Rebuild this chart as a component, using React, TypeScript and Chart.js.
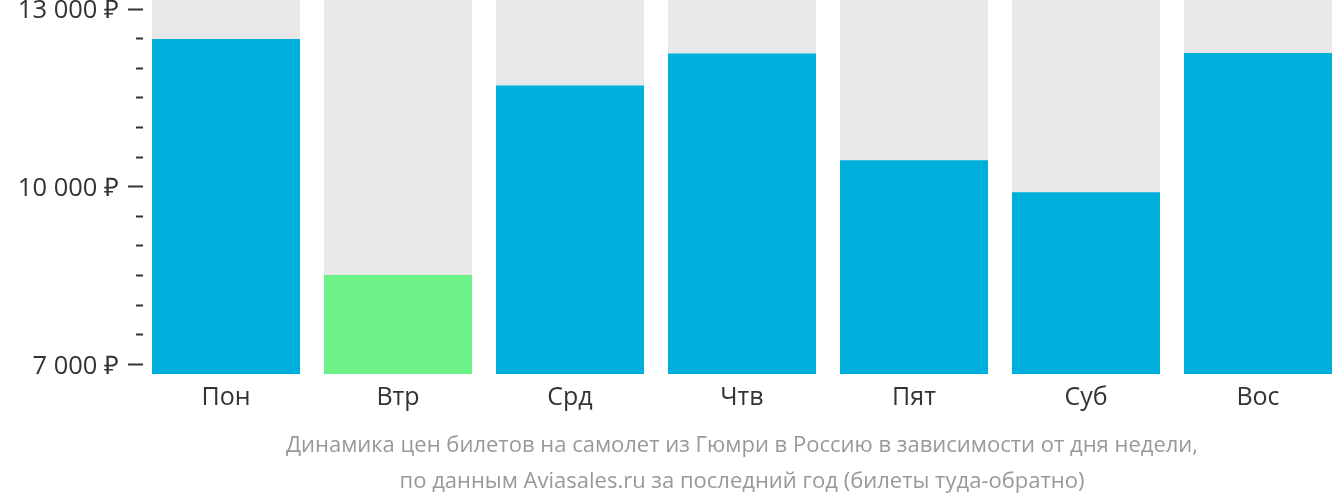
import React, { useEffect, useRef } from "react";
import { Chart, registerables } from "chart.js";

Chart.register(...registerables);

// ---- data ----
const days = ["Пон", "Втр", "Срд", "Чтв", "Пят", "Суб", "Вос"];
const prices = [12495, 8508, 11708, 12247, 10445, 9906, 12259];
const cheapestIndex = 1;

const Y_MIN = 6837;
const Y_MAX = 13152;
const minorTickValues = [7000, 7500, 8000, 8500, 9000, 9500, 10000, 10500, 11000, 11500, 12000, 12500, 13000];
const majorTickValues = [7000, 10000, 13000];
const majorTickLabels = ["7 000 ₽", "10 000 ₽", "13 000 ₽"];

const captionLines = [
  "Динамика цен билетов на самолет из Гюмри в Россию в зависимости от дня недели,",
  "по данным Aviasales.ru за последний год (билеты туда-обратно)",
];

const BLUE = "#00b0dc";
const GREEN = "#6cf088";
const GREY = "#e8e8e8";
const TEXT = "#333333";
const CAPTION = "#999999";

export default function App() {
  const ref = useRef<HTMLCanvasElement | null>(null);

  useEffect(() => {
    if (!ref.current) return;
    const xPad = 74 / 172;
    const chart = new Chart(ref.current, {
      type: "bar",
      data: {
        datasets: [
          {
            label: "price",
            data: prices.map((v, i) => ({ x: i, y: v })),
            backgroundColor: prices.map((_, i) => (i === cheapestIndex ? GREEN : BLUE)),
            grouped: false,
            order: 0,
            categoryPercentage: 1,
            barPercentage: 148 / 172,
            borderWidth: 0,
          },
          {
            label: "bg",
            data: prices.map((_, i) => ({ x: i, y: Y_MAX })),
            backgroundColor: GREY,
            grouped: false,
            order: 1,
            categoryPercentage: 1,
            barPercentage: 148 / 172,
            borderWidth: 0,
          },
        ],
      },
      options: {
        animation: false,
        responsive: true,
        maintainAspectRatio: false,
        layout: { padding: 0 },
        plugins: {
          legend: { display: false },
          tooltip: { enabled: false },
          title: {
            display: true,
            position: "bottom",
            fullSize: false,
            text: captionLines,
            color: CAPTION,
            font: { family: "'Open Sans'", size: 22, weight: "normal", lineHeight: 36 / 22 },
            padding: { top: 8, bottom: 2 },
          },
        },
        scales: {
          x: {
            type: "linear",
            offset: false,
            min: -xPad,
            max: days.length - 1 + xPad,
            grid: { display: false, drawTicks: false, offset: false },
            border: { display: false },
            afterBuildTicks: (scale: any) => {
              scale.ticks = days.map((_, i) => ({ value: i }));
            },
            afterFit: (scale: any) => {
              scale.height = 46;
              scale.paddingLeft = 0;
              scale.paddingRight = 0;
            },
            ticks: {
              autoSkip: false,
              maxRotation: 0,
              padding: 9,
              color: TEXT,
              font: { family: "'Open Sans'", size: 25 },
              callback: (v: any) => days[v as number] ?? "",
            },
          },
          y: {
            type: "linear",
            min: Y_MIN,
            max: Y_MAX,
            border: { display: false },
            grid: {
              drawOnChartArea: false,
              drawTicks: true,
              tickLength: 24,
              tickWidth: 2,
              tickColor: TEXT,
              tickBorderDash: (ctx: any) =>
                majorTickValues.includes(ctx.tick?.value) ? [15, 200] : [7, 200],
              tickBorderDashOffset: (ctx: any) =>
                majorTickValues.includes(ctx.tick?.value) ? 0 : 199,
            },
            afterBuildTicks: (scale: any) => {
              scale.ticks = minorTickValues.map((v) => ({ value: v }));
            },
            afterFit: (scale: any) => {
              scale.width = 152;
              scale.paddingTop = 0;
              scale.paddingBottom = 0;
            },
            ticks: {
              autoSkip: false,
              padding: 9,
              labelOffset: 2,
              color: TEXT,
              font: { family: "'Open Sans'", size: 25.5 },
              callback: (v: any) => {
                const k = majorTickValues.indexOf(v as number);
                return k >= 0 ? majorTickLabels[k] : "";
              },
            },
          },
        },
      },
    });
    return () => chart.destroy();
  }, []);

  return (
    <div style={{ position: "fixed", left: 0, top: 0, width: 1332, height: 502, overflow: "hidden", background: "#fff" }}>
      <canvas ref={ref} />
    </div>
  );
}
